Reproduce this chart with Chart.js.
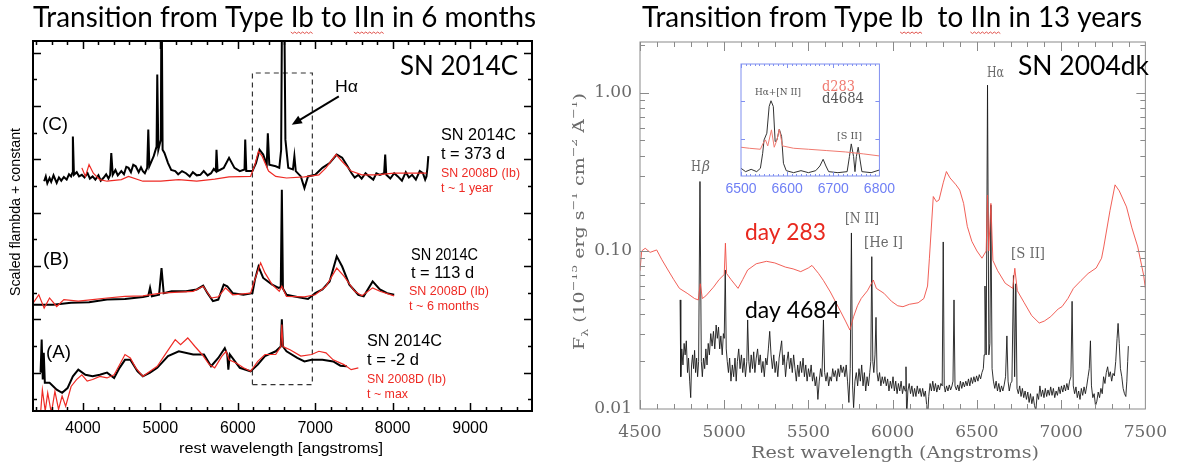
<!DOCTYPE html>
<html>
<head>
<meta charset="utf-8">
<script src="https://cdn.jsdelivr.net/npm/chart.js@4.4.1/dist/chart.umd.min.js"></script>
<style>
  body { margin: 0; background: #fff; width: 1180px; height: 465px; overflow: hidden; position: relative; }
  canvas { position: absolute; }
</style>
</head>
<body>
<canvas id="chart-left" width="572" height="465" style="left:0;top:0"></canvas>
<canvas id="chart-right" width="608" height="465" style="left:572px;top:0"></canvas>
<canvas id="chart-inset" width="200" height="170" style="left:700px;top:40px"></canvas>
<script>
// ── AXIS TICKS ──
const leftXTicks = [4000, 5000, 6000, 7000, 8000, 9000];
const rightXTicks = [4500, 5000, 5500, 6000, 6500, 7000, 7500];
const rightYTicks = [0.01, 0.1, 1];
const insetXTicks = [6500, 6600, 6700, 6800];

// ── LEFT: SN 2014C vs SN 2008D (scaled flux + constant) ──
// (C) t = 373 d
const c373Wave = [3499, 3520, 3540, 3569, 3590, 3620, 3661, 3690, 3720, 3754,
  3790, 3820, 3847, 3861, 3870, 3884, 3920, 3950, 3986, 4020,
  4060, 4090, 4125, 4160, 4200, 4230, 4264, 4300, 4330, 4352,
  4366, 4385, 4420, 4450, 4496, 4530, 4560, 4589, 4620, 4650,
  4682, 4720, 4750, 4774, 4800, 4830, 4844, 4858, 4914, 4951,
  4960, 4974, 5006, 5015, 5029, 5053, 5099, 5140, 5192, 5230,
  5280, 5331, 5380, 5420, 5470, 5516, 5560, 5610, 5655, 5690,
  5716, 5725, 5739, 5818, 5887, 5957, 6026, 6087, 6096, 6110,
  6189, 6235, 6281, 6328, 6374, 6388, 6407, 6490, 6536, 6560,
  6574, 6597, 6615, 6652, 6712, 6731, 6749, 6814, 6861, 6907,
  7000, 7093, 7186, 7278, 7348, 7417, 7470, 7510, 7557, 7600,
  7650, 7696, 7750, 7790, 7835, 7890, 7904, 7918, 7970, 8020,
  8067, 8120, 8170, 8210, 8252, 8300, 8350, 8391, 8420, 8437,
  8450, 8461];
const c373Flux = [3.59, 3.68, 3.55, 3.65, 3.58, 3.7, 3.56, 3.66, 3.6, 3.67,
  3.62, 3.72, 3.68, 3.74, 4.43, 3.71, 3.76, 3.68, 3.71, 3.66,
  3.74, 3.64, 3.68, 3.62, 3.7, 3.6, 3.65, 3.72, 3.64, 3.71,
  4.12, 3.71, 3.8, 3.7, 3.78, 3.72, 3.86, 3.84, 3.76, 3.9,
  3.87, 3.76, 3.85, 3.78, 3.74, 3.84, 4.56, 3.87, 4.06, 4.24,
  5.59, 4.18, 4.37, 7.5, 4.18, 4.12, 3.93, 3.8, 3.78, 3.72,
  3.78, 3.74, 3.68, 3.76, 3.7, 3.71, 3.78, 3.7, 3.74, 3.82,
  3.78, 4.18, 3.78, 3.84, 4.03, 3.84, 3.78, 3.81, 4.37, 3.78,
  3.78, 3.93, 4.18, 4.09, 3.9, 4.49, 3.9, 3.87, 3.84, 4.18,
  7.5, 7.5, 4.37, 3.84, 3.81, 4.06, 3.78, 3.68, 3.46, 3.68,
  3.71, 3.84, 3.93, 4.09, 4.03, 3.87, 3.74, 3.66, 3.71, 3.64,
  3.74, 3.68, 3.62, 3.74, 3.71, 3.74, 4.09, 3.71, 3.64, 3.74,
  3.68, 3.6, 3.76, 3.66, 3.71, 3.62, 3.78, 3.74, 3.62, 3.68,
  3.85, 4.06];
// SN 2008D t ~ 1 year
const c08Wave = [3986, 4032, 4079, 4134, 4218, 4311, 4496, 4589, 4774, 5006,
  5238, 5470, 5702, 5887, 6165, 6221, 6267, 6314, 6397, 6490,
  6629, 6861, 7047, 7139, 7269, 7348, 7464, 7603, 7788, 8020, 8252, 8437];
const c08Flux = [3.84, 3.68, 3.9, 3.74, 3.62, 3.59, 3.62, 3.68, 3.59, 3.59,
  3.62, 3.59, 3.63, 3.67, 3.68, 3.9, 4.15, 4.06, 3.78, 3.68,
  3.65, 3.67, 3.71, 3.84, 4.09, 3.96, 3.78, 3.71, 3.71, 3.74, 3.74, 3.74];

// (B) t = 113 d
const b113Wave = [3360, 3615, 3847, 4079, 4311, 4543, 4774, 4844, 4867, 4890,
  4983, 5015, 5043, 5145, 5331, 5470, 5553, 5609, 5679, 5748,
  5818, 5864, 5934, 6073, 6189, 6221, 6267, 6328, 6444, 6527,
  6555, 6569, 6583, 6629, 6768, 6907, 7000, 7093, 7186, 7278,
  7348, 7441, 7557, 7626, 7742, 7835, 7928, 8020];
const b113Flux = [1.275, 1.275, 1.31, 1.32, 1.37, 1.38, 1.42, 1.44, 1.59, 1.43,
  1.46, 1.96, 1.49, 1.525, 1.525, 1.56, 1.63, 1.49, 1.34, 1.37,
  1.65, 1.62, 1.49, 1.46, 1.49, 1.74, 1.99, 1.775, 1.65, 1.59,
  1.6, 3.43, 1.58, 1.46, 1.42, 1.38, 1.49, 1.56, 1.71, 2.18,
  1.99, 1.65, 1.46, 1.43, 1.71, 1.56, 1.49, 1.46];
// SN 2008D t ~ 6 months
const b08Wave = [3360, 3430, 3499, 3569, 3661, 3754, 3940, 4125, 4311, 4543,
  4774, 5006, 5238, 5424, 5553, 5655, 5748, 5841, 5934, 6165,
  6235, 6295, 6351, 6444, 6536, 6569, 6629, 6861, 7000, 7139,
  7278, 7371, 7510, 7603, 7742, 7835, 8020];
const b08Flux = [1.31, 1.46, 1.21, 1.4, 1.24, 1.37, 1.34, 1.37, 1.4, 1.43,
  1.44, 1.49, 1.51, 1.525, 1.62, 1.4, 1.42, 1.59, 1.46, 1.49,
  1.81, 2.06, 1.87, 1.65, 1.525, 1.62, 1.43, 1.42, 1.46, 1.62,
  1.96, 1.81, 1.525, 1.44, 1.59, 1.525, 1.44];

// (A) t = -2 d
const aM2Wave = [3453, 3467, 3481, 3494, 3508, 3569, 3661, 3731, 3801, 3870,
  3940, 4032, 4125, 4218, 4311, 4403, 4473, 4543, 4612, 4705,
  4774, 4867, 4960, 5099, 5238, 5424, 5563, 5655, 5748, 5832,
  5864, 5878, 5897, 6026, 6165, 6258, 6351, 6490, 6555, 6569,
  6583, 6629, 6768, 6861, 6954, 7093, 7232, 7325, 7408];
const aM2Flux = [0.0, 0.62, -0.13, 0.37, -0.19, -0.19, -0.32, -0.38, -0.29, -0.07,
  0.056, -0.04, -0.07, -0.04, 0.0, -0.1, 0.09, 0.24, 0.24, 0.025,
  -0.07, 0.0, 0.09, 0.31, 0.4, 0.34, 0.34, 0.12, 0.275, 0.46,
  0.34, 0.056, 0.34, 0.09, 0.025, 0.15, 0.31, 0.4, 0.49, 1.0,
  0.49, 0.4, 0.275, 0.21, 0.24, 0.24, 0.21, 0.13, 0.12];
// SN 2008D t ~ max
const a08Wave = [3453, 3476, 3513, 3545, 3592, 3638, 3685, 3731, 3777, 3847,
  3917, 3986, 4055, 4125, 4218, 4311, 4403, 4496, 4543, 4612,
  4682, 4774, 4867, 4960, 5076, 5192, 5261, 5354, 5447, 5539,
  5632, 5702, 5795, 5850, 5887, 5980, 6073, 6165, 6258, 6351,
  6490, 6555, 6569, 6583, 6675, 6814, 6954, 7047, 7139, 7232,
  7371, 7464, 7557];
const a08Flux = [-0.76, -0.32, -0.72, -0.38, -0.76, -0.35, -0.69, -0.44, -0.63, -0.26,
  -0.13, -0.04, -0.16, -0.13, -0.07, -0.1, -0.04, 0.21, 0.34, 0.275,
  0.09, -0.07, 0.025, 0.12, 0.37, 0.62, 0.525, 0.65, 0.49, 0.34,
  0.15, 0.09, 0.31, 0.4, 0.24, 0.18, 0.09, 0.025, 0.21, 0.34,
  0.34, 0.49, 0.9, 0.49, 0.43, 0.31, 0.34, 0.4, 0.37, 0.24,
  0.15, 0.056, 0.09];

// dashed box round the H-alpha region, and the arrow
const boxWave = [6189, 6189, 6963, 6963, 6189];
const boxFlux = [-0.225, 5.62, 5.62, -0.225, -0.225];
const arrowWave = [7305, 6697];
const arrowFlux = [5.18, 4.65];

// ── RIGHT: SN 2004dk, F_lambda ──
const d283Wave = [4500, 4510, 4531, 4560, 4599, 4630, 4666, 4700, 4734, 4780,
  4824, 4846, 4858, 4870, 4891, 4936, 4970, 5000, 5007, 5014,
  5040, 5082, 5110, 5139, 5190, 5251, 5300, 5364, 5409, 5454,
  5499, 5521, 5560, 5589, 5630, 5678, 5720, 5746, 5768, 5791,
  5813, 5850, 5885, 5903, 5948, 5993, 6030, 6061, 6100, 6151,
  6185, 6207, 6218, 6241, 6260, 6275, 6300, 6319, 6340, 6376,
  6398, 6421, 6443, 6470, 6500, 6530, 6555, 6563, 6570, 6583,
  6595, 6623, 6668, 6713, 6725, 6740, 6781, 6825, 6870, 6900,
  6938, 6983, 7005, 7040, 7073, 7118, 7160, 7208, 7240, 7253,
  7290, 7320, 7345, 7388, 7420, 7455, 7490, 7500];
const d283Flux = [0.075, 0.1, 0.104, 0.098, 0.1015, 0.088, 0.0758, 0.066, 0.058, 0.054,
  0.05, 0.049, 0.062, 0.05, 0.052, 0.059, 0.066, 0.071, 0.112, 0.072,
  0.066, 0.058, 0.066, 0.0758, 0.083, 0.086, 0.084, 0.079, 0.077, 0.074,
  0.078, 0.081, 0.072, 0.065, 0.055, 0.044, 0.036, 0.0316, 0.0384, 0.045,
  0.05, 0.056, 0.0655, 0.058, 0.054, 0.048, 0.045, 0.0444, 0.046, 0.047,
  0.05, 0.06, 0.09, 0.221, 0.205, 0.21, 0.27, 0.318, 0.29, 0.262,
  0.243, 0.2, 0.143, 0.115, 0.1, 0.09, 0.1, 0.226, 0.1, 0.2,
  0.087, 0.075, 0.0625, 0.058, 0.0777, 0.056, 0.047, 0.039, 0.035, 0.036,
  0.0384, 0.043, 0.0444, 0.05, 0.058, 0.065, 0.072, 0.078, 0.09, 0.106,
  0.18, 0.262, 0.24, 0.19, 0.14, 0.106, 0.07, 0.058];

const d4684Wave = [4738, 4742, 4748, 4755, 4762, 4768, 4775, 4782, 4788, 4795,
  4801, 4806, 4812, 4818, 4824, 4830, 4836, 4842, 4848, 4856,
  4864, 4870, 4877, 4884, 4891, 4898, 4905, 4912, 4920, 4928,
  4936, 4944, 4952, 4959, 4966, 4973, 4980, 4988, 4995, 5000,
  5006, 5012, 5018, 5025, 5032, 5040, 5048, 5056, 5064, 5071,
  5078, 5086, 5094, 5102, 5110, 5118, 5126, 5134, 5139, 5146,
  5153, 5160, 5168, 5175, 5182, 5190, 5198, 5206, 5214, 5222,
  5230, 5238, 5246, 5254, 5262, 5270, 5278, 5286, 5294, 5302,
  5310, 5318, 5326, 5334, 5341, 5348, 5356, 5364, 5372, 5380,
  5388, 5396, 5404, 5412, 5420, 5428, 5436, 5444, 5452, 5460,
  5468, 5476, 5484, 5492, 5500, 5508, 5516, 5524, 5532, 5540,
  5548, 5556, 5564, 5572, 5580, 5589, 5596, 5604, 5612, 5620,
  5628, 5636, 5644, 5652, 5660, 5668, 5676, 5684, 5692, 5700,
  5708, 5716, 5724, 5732, 5740, 5748, 5755, 5762, 5768, 5776,
  5784, 5792, 5800, 5808, 5816, 5824, 5832, 5840, 5848, 5856,
  5864, 5870, 5876, 5882, 5888, 5895, 5901, 5907, 5914, 5922,
  5930, 5938, 5946, 5954, 5962, 5970, 5978, 5986, 5994, 6002,
  6010, 6018, 6026, 6034, 6042, 6050, 6058, 6066, 6074, 6079,
  6083, 6090, 6098, 6106, 6114, 6122, 6130, 6138, 6146, 6154,
  6162, 6170, 6178, 6186, 6194, 6202, 6207, 6214, 6222, 6230,
  6238, 6246, 6254, 6262, 6270, 6278, 6286, 6294, 6300, 6306,
  6312, 6320, 6328, 6336, 6344, 6352, 6358, 6364, 6370, 6378,
  6386, 6394, 6402, 6410, 6418, 6426, 6434, 6442, 6450, 6458,
  6466, 6474, 6482, 6490, 6498, 6506, 6514, 6522, 6530, 6538,
  6543, 6548, 6555, 6563, 6571, 6577, 6583, 6590, 6598, 6606,
  6614, 6622, 6630, 6638, 6646, 6654, 6662, 6670, 6678, 6685,
  6692, 6700, 6708, 6717, 6724, 6731, 6738, 6746, 6754, 6762,
  6770, 6778, 6786, 6794, 6802, 6810, 6818, 6826, 6834, 6842,
  6850, 6858, 6866, 6874, 6882, 6890, 6898, 6906, 6914, 6922,
  6930, 6938, 6946, 6954, 6962, 6970, 6978, 6986, 6994, 7002,
  7010, 7018, 7026, 7034, 7042, 7050, 7058, 7065, 7072, 7080,
  7088, 7096, 7104, 7112, 7120, 7128, 7136, 7144, 7152, 7160,
  7167, 7174, 7180, 7188, 7196, 7204, 7212, 7220, 7228, 7236,
  7244, 7252, 7260, 7268, 7276, 7284, 7292, 7300, 7308, 7316,
  7324, 7332, 7338, 7345, 7352, 7360, 7368, 7376, 7384, 7390,
  7395, 7399];
const d4684Flux = [0.049, 0.016, 0.024, 0.019, 0.026, 0.022, 0.027, 0.017, 0.021, 0.015,
  0.0118, 0.019, 0.022, 0.018, 0.0235, 0.017, 0.021, 0.016, 0.02, 0.275,
  0.02, 0.016, 0.021, 0.018, 0.024, 0.019, 0.026, 0.022, 0.03, 0.025,
  0.031, 0.024, 0.034, 0.028, 0.033, 0.024, 0.029, 0.022, 0.03, 0.028,
  0.0758, 0.024, 0.02, 0.017, 0.021, 0.015, 0.019, 0.016, 0.021, 0.015,
  0.02, 0.024, 0.018, 0.022, 0.017, 0.021, 0.016, 0.02, 0.0366, 0.02,
  0.017, 0.022, 0.018, 0.023, 0.017, 0.021, 0.024, 0.019, 0.022, 0.017,
  0.02, 0.016, 0.021, 0.019, 0.024, 0.031, 0.022, 0.018, 0.022, 0.017,
  0.02, 0.016, 0.021, 0.024, 0.027, 0.019, 0.022, 0.016, 0.02, 0.023,
  0.018, 0.021, 0.017, 0.022, 0.018, 0.015, 0.019, 0.016, 0.02, 0.017,
  0.021, 0.016, 0.019, 0.015, 0.018, 0.016, 0.019, 0.015, 0.017, 0.014,
  0.016, 0.0115, 0.015, 0.018, 0.016, 0.0366, 0.017, 0.015, 0.017, 0.014,
  0.016, 0.015, 0.018, 0.016, 0.0175, 0.015, 0.018, 0.016, 0.019, 0.017,
  0.0185, 0.016, 0.019, 0.015, 0.011, 0.018, 0.13, 0.014, 0.0102, 0.015,
  0.017, 0.014, 0.018, 0.015, 0.019, 0.014, 0.017, 0.013, 0.016, 0.014,
  0.017, 0.02, 0.092, 0.02, 0.017, 0.022, 0.038, 0.017, 0.015, 0.017,
  0.014, 0.016, 0.0145, 0.016, 0.014, 0.0155, 0.013, 0.015, 0.0135, 0.016,
  0.013, 0.015, 0.0125, 0.0145, 0.013, 0.015, 0.0125, 0.014, 0.013, 0.0185,
  0.0085, 0.013, 0.0145, 0.0125, 0.014, 0.012, 0.0135, 0.012, 0.014, 0.0125,
  0.0135, 0.012, 0.0135, 0.012, 0.013, 0.0105, 0.0088, 0.012, 0.0145, 0.013,
  0.015, 0.013, 0.0145, 0.0128, 0.0142, 0.0132, 0.0145, 0.014, 0.114, 0.014,
  0.0128, 0.014, 0.013, 0.0142, 0.0132, 0.014, 0.015, 0.049, 0.014, 0.0132,
  0.0142, 0.013, 0.015, 0.0135, 0.0148, 0.0138, 0.015, 0.014, 0.0155, 0.014,
  0.0158, 0.0145, 0.016, 0.0148, 0.0162, 0.015, 0.0165, 0.0155, 0.017, 0.018,
  0.022, 0.06, 0.022, 1.12, 0.022, 0.026, 0.195, 0.018, 0.015, 0.0135,
  0.015, 0.013, 0.0145, 0.0128, 0.014, 0.013, 0.0142, 0.016, 0.029, 0.015,
  0.013, 0.0145, 0.015, 0.07, 0.016, 0.062, 0.0135, 0.0125, 0.014, 0.012,
  0.0135, 0.0118, 0.013, 0.0115, 0.0128, 0.011, 0.0125, 0.0108, 0.012, 0.0105,
  0.0098, 0.0125, 0.0115, 0.014, 0.012, 0.0132, 0.0118, 0.0135, 0.012, 0.0132,
  0.0122, 0.0138, 0.0122, 0.0135, 0.0118, 0.013, 0.0122, 0.0138, 0.0125, 0.014,
  0.0128, 0.0142, 0.013, 0.0145, 0.0132, 0.015, 0.016, 0.048, 0.014, 0.0125,
  0.0138, 0.0118, 0.013, 0.0115, 0.0135, 0.0122, 0.0138, 0.0125, 0.014, 0.016,
  0.018, 0.027, 0.014, 0.0118, 0.0125, 0.0105, 0.0112, 0.0128, 0.0118, 0.0135,
  0.0125, 0.016, 0.0145, 0.017, 0.0185, 0.016, 0.0172, 0.015, 0.0168, 0.0162,
  0.02, 0.028, 0.0348, 0.026, 0.018, 0.016, 0.0135, 0.0125, 0.012, 0.015,
  0.02, 0.025];

// ── INSET: H-alpha + [N II] and [S II] zoom (arbitrary units) ──
const ins283Wave = [6500, 6518, 6542, 6548, 6553, 6558, 6566, 6572, 6578, 6583,
  6590, 6614, 6646, 6686, 6726, 6766, 6800];
const ins283Flux = [0.86, 0.83, 0.80, 0.98, 1.08, 0.90, 1.38, 0.86, 1.08, 1.40,
  0.90, 0.83, 0.80, 0.76, 0.72, 0.66, 0.60];
const ins4684Wave = [6500, 6510, 6522, 6534, 6542, 6547, 6550, 6556, 6561, 6565,
  6570, 6574, 6578, 6583, 6588, 6592, 6598, 6614, 6630, 6646,
  6662, 6671, 6678, 6684, 6690, 6710, 6730, 6735, 6739, 6744,
  6747, 6750, 6754, 6758, 6762, 6782, 6800];
const ins4684Flux = [0.23, 0.13, 0.2, 0.13, 0.23, 0.68, 1.08, 1.28, 2.08, 2.25,
  2.08, 1.03, 1.08, 1.40, 1.18, 0.38, 0.16, 0.10, 0.16, 0.10,
  0.16, 0.30, 0.50, 0.30, 0.13, 0.10, 0.13, 0.58, 0.96, 0.58,
  0.13, 0.58, 0.86, 0.48, 0.13, 0.10, 0.18];

// ── HELPERS ──
const pts = (w, f) => w.map((x, i) => ({ x: x, y: f[i] }));

// draw text squeezed/stretched to a given width
function fitText(ctx, s, x, y, font, color, w, align) {
  ctx.save();
  ctx.font = font;
  ctx.fillStyle = color;
  ctx.textAlign = 'left';
  ctx.textBaseline = 'alphabetic';
  const m = ctx.measureText(s).width;
  const sx = w ? w / m : 1;
  const real = m * sx;
  const left = align === 'right' ? x - real : align === 'center' ? x - real / 2 : x;
  ctx.translate(left, y);
  ctx.scale(sx, 1);
  ctx.fillText(s, 0, 0);
  ctx.restore();
}

// title with the red spell-check squiggles under some words
function drawTitle(ctx, s, x, y, w, marked) {
  ctx.save();
  ctx.font = '28px Lato';
  const m = ctx.measureText(s).width;
  ctx.translate(x, y);
  ctx.scale(w / m, 1);
  ctx.fillStyle = '#000';
  ctx.fillText(s, 0, 0);
  ctx.strokeStyle = '#e0504a';
  ctx.lineWidth = 1;
  marked.forEach(word => {
    const i = s.indexOf(word);
    const a = ctx.measureText(s.slice(0, i)).width;
    const b = a + ctx.measureText(word).width;
    ctx.beginPath();
    for (let px = a, k = 0; px <= b; px += 2, k++) {
      const yy = 5 + (k % 2 ? 1.5 : 0);
      if (k === 0) ctx.moveTo(px, yy); else ctx.lineTo(px, yy);
    }
    ctx.stroke();
  });
  ctx.restore();
}

// rotated (bottom-to-top) text made of runs, fitted to a length
function drawRuns(ctx, runs, x, y, len) {
  ctx.save();
  ctx.translate(x, y);
  ctx.rotate(-Math.PI / 2);
  let total = 0;
  runs.forEach(r => { ctx.font = r.font; total += ctx.measureText(r.t).width; });
  ctx.scale(len / total, 1);
  let pos = 0;
  runs.forEach(r => {
    ctx.font = r.font;
    ctx.fillStyle = r.color;
    ctx.fillText(r.t, pos, r.dy || 0);
    pos += ctx.measureText(r.t).width;
  });
  ctx.restore();
}

// box plus inward ticks on all four sides
function framePlugin(o) {
  return {
    id: 'frame',
    afterDatasetsDraw(chart) {
      const { ctx, chartArea: a, scales: { x, y } } = chart;
      ctx.save();
      ctx.strokeStyle = o.color;
      ctx.lineWidth = o.tickWidth;
      ctx.beginPath();
      const xt = (vals, len) => vals.forEach(v => {
        const p = Math.round(x.getPixelForValue(v)) + 0.5;
        if (p < a.left || p > a.right) return;
        ctx.moveTo(p, a.bottom); ctx.lineTo(p, a.bottom - len);
        ctx.moveTo(p, a.top); ctx.lineTo(p, a.top + len);
      });
      const yt = (vals, len) => vals.forEach(v => {
        const p = Math.round(y.getPixelForValue(v)) + 0.5;
        if (p < a.top || p > a.bottom) return;
        ctx.moveTo(a.left, p); ctx.lineTo(a.left + len, p);
        ctx.moveTo(a.right, p); ctx.lineTo(a.right - len, p);
      });
      xt(o.xMajor, o.major); xt(o.xMinor, o.minor);
      yt(o.yMajor, o.major); yt(o.yMinor, o.minor);
      ctx.stroke();
      ctx.lineWidth = o.boxWidth;
      ctx.strokeRect(a.left, a.top, a.width, a.height);
      ctx.restore();
    }
  };
}

const range = (a, b, step) => { const r = []; for (let v = a; v <= b + 1e-9; v += step) r.push(+v.toFixed(3)); return r; };

const common = {
  animation: false,
  responsive: false,
  events: [],
  plugins: { legend: { display: false }, tooltip: { enabled: false } },
  elements: { point: { radius: 0 }, line: { tension: 0 } }
};
const noGrid = { display: false, drawTicks: false };

// ── CHART 1: SN 2014C ──
const leftText = {
  id: 'leftText',
  afterDraw(chart) {
    const { ctx, scales: { x, y } } = chart;
    drawTitle(ctx, 'Transition from Type Ib to IIn in 6 months', 33, 27, 503, ['Ib', 'IIn']);
    const sans = 'Liberation Sans';
    fitText(ctx, 'SN 2014C', 518, 75, '26px Lato', '#000', 118, 'right');
    fitText(ctx, '(C)', 42, 130, `19px ${sans}`, '#000', 26);
    fitText(ctx, '(B)', 43, 265, `19px ${sans}`, '#000', 26);
    fitText(ctx, '(A)', 46, 358, `19px ${sans}`, '#000', 25);
    fitText(ctx, 'Hα', 335, 92, `17px ${sans}`, '#000', 23);

    fitText(ctx, 'SN 2014C', 441, 140, `17px ${sans}`, '#000', 75);
    fitText(ctx, 't = 373 d', 441, 159, `17px ${sans}`, '#000', 64);
    fitText(ctx, 'SN 2008D (Ib)', 441, 177, `13px ${sans}`, '#ee2a24', 79);
    fitText(ctx, 't ~ 1 year', 441, 192, `13px ${sans}`, '#ee2a24', 52);

    fitText(ctx, 'SN 2014C', 411, 260, `17px ${sans}`, '#000', 67);
    fitText(ctx, 't = 113 d', 411, 278, `17px ${sans}`, '#000', 63);
    fitText(ctx, 'SN 2008D (Ib)', 409, 295, `13px ${sans}`, '#ee2a24', 80);
    fitText(ctx, 't ~ 6 months', 409, 310, `13px ${sans}`, '#ee2a24', 70);

    fitText(ctx, 'SN 2014C', 367, 346, `17px ${sans}`, '#000', 75);
    fitText(ctx, 't = -2 d', 367, 365, `17px ${sans}`, '#000', 52);
    fitText(ctx, 'SN 2008D (Ib)', 367, 383, `13px ${sans}`, '#ee2a24', 79);
    fitText(ctx, 't ~ max', 367, 398, `13px ${sans}`, '#ee2a24', 41);

    fitText(ctx, 'rest wavelength [angstroms]', 281, 453, `15px ${sans}`, '#000', 204, 'center');
    drawRuns(ctx, [{ t: 'Scaled flambda + constant', font: `15px ${sans}`, color: '#000' }], 20, 296, 168);

    // arrow pointing at H-alpha
    const x0 = x.getPixelForValue(arrowWave[0]), y0 = y.getPixelForValue(arrowFlux[0]);
    const x1 = x.getPixelForValue(arrowWave[1]), y1 = y.getPixelForValue(arrowFlux[1]);
    const ang = Math.atan2(y1 - y0, x1 - x0);
    ctx.save();
    ctx.strokeStyle = '#000'; ctx.fillStyle = '#000'; ctx.lineWidth = 2;
    ctx.beginPath();
    ctx.moveTo(x0, y0);
    ctx.lineTo(x1 - 8 * Math.cos(ang), y1 - 8 * Math.sin(ang));
    ctx.stroke();
    ctx.beginPath();
    ctx.moveTo(x1, y1);
    ctx.lineTo(x1 - 11 * Math.cos(ang - 0.4), y1 - 11 * Math.sin(ang - 0.4));
    ctx.lineTo(x1 - 11 * Math.cos(ang + 0.4), y1 - 11 * Math.sin(ang + 0.4));
    ctx.closePath();
    ctx.fill();
    ctx.restore();
  }
};

const RED = '#ee2a24';
new Chart(document.getElementById('chart-left'), {
  type: 'line',
  data: {
    datasets: [
      { data: pts(c08Wave, c08Flux), borderColor: RED, borderWidth: 1.2 },
      { data: pts(c373Wave, c373Flux), borderColor: '#000', borderWidth: 2 },
      { data: pts(b08Wave, b08Flux), borderColor: RED, borderWidth: 1.2 },
      { data: pts(b113Wave, b113Flux), borderColor: '#000', borderWidth: 2 },
      { data: pts(a08Wave, a08Flux), borderColor: RED, borderWidth: 1.2 },
      { data: pts(aM2Wave, aM2Flux), borderColor: '#000', borderWidth: 2 },
      { data: pts(boxWave, boxFlux), borderColor: '#333', borderWidth: 1.2, borderDash: [5, 4] }
    ]
  },
  options: {
    ...common,
    layout: { padding: { left: 0, top: 41, right: 40, bottom: 0 } },
    scales: {
      x: {
        type: 'linear', min: 3355, max: 9800,
        afterBuildTicks: s => { s.ticks = leftXTicks.map(v => ({ value: v })); },
        afterFit: s => { s.height = 54; },
        grid: noGrid, border: { display: false },
        ticks: { color: '#000', font: { family: 'Liberation Sans', size: 16 }, padding: 8,
          maxRotation: 0, autoSkip: false, callback: v => String(v) }
      },
      y: {
        type: 'linear', min: -0.72, max: 6.22,
        afterFit: s => { s.width = 33; },
        grid: noGrid, border: { display: false },
        ticks: { display: false }
      }
    }
  },
  plugins: [framePlugin({
    color: '#000', tickWidth: 1.5, boxWidth: 2, major: 8, minor: 4,
    xMajor: leftXTicks, xMinor: range(3400, 9800, 200),
    yMajor: range(0, 6, 1), yMinor: range(-0.5, 6, 0.5)
  }), leftText]
});

// ── CHART 2: SN 2004dk ──
const GRAY = '#6a6a6a';
const rightText = {
  id: 'rightText',
  afterDraw(chart) {
    const { ctx } = chart;
    drawTitle(ctx, 'Transition from Type Ib  to IIn in 13 years', 70, 27, 500, ['Ib', 'IIn']);
    fitText(ctx, 'SN 2004dk', 577, 75, '26px Lato', '#000', 131, 'right');
    const serif = 'DejaVu Serif';
    fitText(ctx, 'Hα', 415, 77, `14px ${serif}`, GRAY, 17);
    fitText(ctx, 'H', 119, 171, `14px ${serif}`, GRAY, 10);
    fitText(ctx, 'β', 130, 171, `italic 14px ${serif}`, GRAY, 8);
    fitText(ctx, '[N II]', 273, 223, `14px ${serif}`, GRAY, 34);
    fitText(ctx, '[He I]', 292, 247, `14px ${serif}`, GRAY, 39);
    fitText(ctx, '[S II]', 439, 258, `14px ${serif}`, GRAY, 34);
    fitText(ctx, 'day 283', 173, 240, '24px Lato', '#e8281e', 81);
    fitText(ctx, 'day 4684', 173, 318, '24px Lato', '#000', 95);
    fitText(ctx, 'Rest wavelength (Angstroms)', 323, 458, `17px ${serif}`, GRAY, 288, 'center');
    const f = `15px ${serif}`, fs = `10px ${serif}`;
    drawRuns(ctx, [
      { t: 'F', font: f, color: GRAY },
      { t: 'λ', font: fs, color: GRAY, dy: 4 },
      { t: ' (10', font: f, color: GRAY },
      { t: '−15', font: fs, color: GRAY, dy: -7 },
      { t: ' erg s', font: f, color: GRAY },
      { t: '−1', font: fs, color: GRAY, dy: -7 },
      { t: ' cm', font: f, color: GRAY },
      { t: '−2', font: fs, color: GRAY, dy: -7 },
      { t: ' Å', font: f, color: GRAY },
      { t: '−1', font: fs, color: GRAY, dy: -7 },
      { t: ')', font: f, color: GRAY }
    ], 12, 350, 257);
  }
};

new Chart(document.getElementById('chart-right'), {
  type: 'line',
  data: {
    datasets: [
      { data: pts(d283Wave, d283Flux), borderColor: '#ef4e45', borderWidth: 0.9 },
      { data: pts(d4684Wave, d4684Flux), borderColor: '#1a1a1a', borderWidth: 0.9 }
    ]
  },
  options: {
    ...common,
    layout: { padding: { left: 0, top: 42, right: 27, bottom: 0 } },
    scales: {
      x: {
        type: 'linear', min: 4500, max: 7500,
        afterBuildTicks: s => { s.ticks = rightXTicks.map(v => ({ value: v })); },
        afterFit: s => { s.height = 56; },
        grid: noGrid, border: { display: false },
        ticks: { color: GRAY, font: { family: 'DejaVu Serif', size: 17 }, padding: 13,
          maxRotation: 0, autoSkip: false, callback: v => String(v) }
      },
      y: {
        type: 'logarithmic', min: 0.01, max: 2.1,
        afterBuildTicks: s => { s.ticks = rightYTicks.map(v => ({ value: v })); },
        afterFit: s => { s.width = 68; },
        grid: noGrid, border: { display: false },
        ticks: { color: GRAY, font: { family: 'DejaVu Serif', size: 17 }, padding: 8,
          autoSkip: false, callback: v => Number(v).toFixed(2) }
      }
    }
  },
  plugins: [framePlugin({
    color: '#8a8a8a', tickWidth: 1, boxWidth: 1, major: 9, minor: 5,
    xMajor: rightXTicks, xMinor: range(4600, 7400, 100),
    yMajor: rightYTicks, yMinor: [0.02, 0.03, 0.04, 0.05, 0.06, 0.07, 0.08, 0.09,
      0.2, 0.3, 0.4, 0.5, 0.6, 0.7, 0.8, 0.9, 2]
  }), rightText]
});

// ── CHART 3: INSET ──
const insetText = {
  id: 'insetText',
  beforeDatasetsDraw(chart) {
    const { ctx, chartArea: a } = chart;
    ctx.save();
    ctx.fillStyle = '#fff';
    ctx.fillRect(a.left, a.top, a.width, a.height);
    ctx.restore();
  },
  afterDraw(chart) {
    const { ctx } = chart;
    const serif = 'DejaVu Serif';
    fitText(ctx, 'Hα+[N II]', 55, 55, `10px ${serif}`, '#555', 46);
    fitText(ctx, 'd283', 122, 51, `14px ${serif}`, '#f07a70', 33);
    fitText(ctx, 'd4684', 122, 63, `14px ${serif}`, '#555', 42);
    fitText(ctx, '[S II]', 137, 99, `10px ${serif}`, '#555', 25);
  }
};

new Chart(document.getElementById('chart-inset'), {
  type: 'line',
  data: {
    datasets: [
      { data: pts(ins283Wave, ins283Flux), borderColor: '#f07a70', borderWidth: 1 },
      { data: pts(ins4684Wave, ins4684Flux), borderColor: '#333', borderWidth: 1 }
    ]
  },
  options: {
    ...common,
    layout: { padding: { left: 0, top: 24, right: 16, bottom: 0 } },
    scales: {
      x: {
        type: 'linear', min: 6500, max: 6800,
        afterBuildTicks: s => { s.ticks = insetXTicks.map(v => ({ value: v })); },
        afterFit: s => { s.height = 34; },
        grid: noGrid, border: { display: false },
        ticks: { color: '#6f7ff5', font: { family: 'Liberation Sans', size: 14 }, padding: 5,
          maxRotation: 0, autoSkip: false, callback: v => String(v) }
      },
      y: {
        type: 'linear', min: 0, max: 3.35,
        afterFit: s => { s.width = 41; },
        grid: noGrid, border: { display: false },
        ticks: { display: false }
      }
    }
  },
  plugins: [framePlugin({
    color: '#8090f0', tickWidth: 1, boxWidth: 1, major: 4, minor: 2,
    xMajor: insetXTicks, xMinor: range(6510, 6790, 10),
    yMajor: [1.1, 2.23], yMinor: []
  }), insetText]
});
</script>
</body>
</html>
